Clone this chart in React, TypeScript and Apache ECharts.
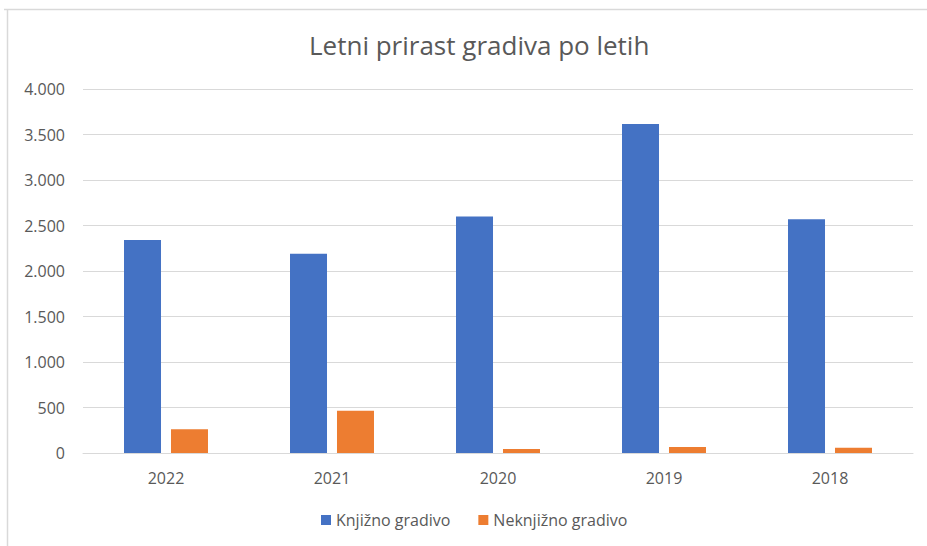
import React, { useEffect, useRef } from "react";
import * as echarts from "echarts";

const categories = ["2022", "2021", "2020", "2019", "2018"];
const knjizno = [2340, 2190, 2600, 3615, 2570];
const neknjizno = [260, 465, 45, 66, 58];
const seriesNames = ["Knjižno gradivo", "Neknjižno gradivo"];
const titleText = "Letni prirast gradiva po letih";

const fmt = (v: number) => String(v).replace(/\B(?=(\d{3})+(?!\d))/g, ".");

export default function App() {
  const ref = useRef<HTMLDivElement>(null);
  useEffect(() => {
    if (!ref.current) return;
    const chart = echarts.init(ref.current, undefined, { renderer: "svg" });
    const font = "'Open Sans', 'Noto Sans', sans-serif";
    chart.setOption({
      animation: false,
      backgroundColor: "#ffffff",
      textStyle: { fontFamily: font },
      title: {
        text: titleText,
        left: 304,
        top: 27,
        textStyle: { fontFamily: font, fontSize: 26, fontWeight: "normal", color: "#595959" },
      },
      graphic: [
        { type: "line", shape: { x1: 4, y1: 9.5, x2: 927, y2: 9.5 }, style: { stroke: "#D9D9D9", lineWidth: 1.5 } },
        { type: "line", shape: { x1: 7.5, y1: 9, x2: 7.5, y2: 546 }, style: { stroke: "#D9D9D9", lineWidth: 1.5 } },
      ],
      legend: {
        data: seriesNames,
        bottom: 13,
        left: 316,
        itemWidth: 10,
        itemHeight: 10,
        itemGap: 28,
        icon: "rect",
        textStyle: { fontFamily: font, fontSize: 16, color: "#595959" },
      },
      grid: { left: 83, right: 14, top: 89, bottom: 93, containLabel: false },
      xAxis: {
        type: "category",
        data: categories,
        axisLine: { lineStyle: { color: "#D9D9D9", width: 1 } },
        axisTick: { show: false },
        axisLabel: { color: "#595959", fontSize: 16, margin: 17, fontFamily: font },
      },
      yAxis: {
        type: "value",
        min: 0,
        max: 4000,
        interval: 500,
        axisLine: { show: false },
        axisTick: { show: false },
        splitLine: { lineStyle: { color: "#D9D9D9", width: 1 } },
        axisLabel: { color: "#595959", fontSize: 16, margin: 18, fontFamily: font, formatter: (v: number) => fmt(v) },
      },
      series: [
        {
          name: seriesNames[0],
          type: "bar",
          data: knjizno,
          barWidth: 37,
          barGap: "27%",
          itemStyle: { color: "#4472C4" },
        },
        {
          name: seriesNames[1],
          type: "bar",
          data: neknjizno,
          barWidth: 37,
          barGap: "27%",
          itemStyle: { color: "#ED7D31" },
        },
      ],
    });
    return () => chart.dispose();
  }, []);
  return <div ref={ref} style={{ width: 927, height: 546, position: "absolute", left: 0, top: 0 }} />;
}
